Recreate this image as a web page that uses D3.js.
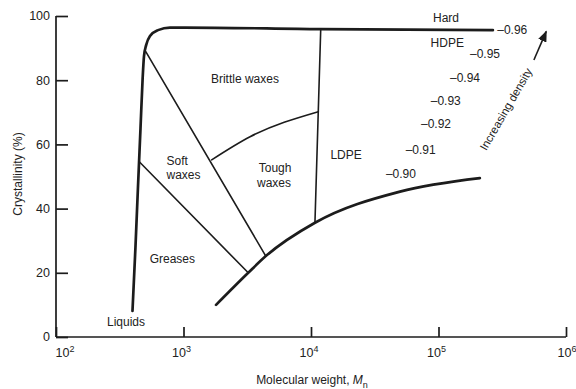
<!DOCTYPE html>
<html><head><meta charset="utf-8">
<script src="https://cdn.jsdelivr.net/npm/d3@7"></script>
<style>
body{margin:0;background:#fff;}
text{font-family:"Liberation Sans",Arial,sans-serif;fill:#222;}
</style></head>
<body><svg id="c" width="576" height="389"></svg>
<script>
// ---- data ----
const xTicks = [1e2, 1e3, 1e4, 1e5, 1e6];
const xTickExp = ["2", "3", "4", "5", "6"];
const yTicks = [0, 20, 40, 60, 80, 100];

// outer envelope (liquids -> hard HDPE)
const envMw    = [398, 420, 440, 460, 478, 490, 510, 546, 631, 783, 1028, 11750, 267000];
const envCryst = [8.1, 28, 47.2, 65, 80.5, 87.5, 91, 93.8, 95.6, 96.4, 96.4, 95.9, 95.6];
// lower boundary curve
const lowMw    = [1800, 3220, 4420, 10740, 49900, 211000];
const lowCryst = [10, 20, 25.2, 35.6, 45.3, 49.5];
// greases / soft waxes boundary
const greMw    = [450, 3220];
const greCryst = [54.6, 20];
// soft / brittle & tough boundary
const britMw    = [506, 4420];
const britCryst = [88.9, 25.2];
// brittle / tough boundary
const toughMw    = [1663, 3327, 11410];
const toughCryst = [55.2, 62.4, 70.2];
// LDPE boundary
const ldpeMw    = [11920, 10740];
const ldpeCryst = [95.9, 35.6];

// density labels
const densLabels = ["\u20130.96", "\u20130.95", "\u20130.94", "\u20130.93", "\u20130.92", "\u20130.91", "\u20130.90"];
const densMw     = [289000, 176600, 123000, 86900, 72900, 55300, 38700];
const densCryst  = [95.6, 88.2, 80.9, 73.5, 66.3, 58.3, 50.7];

// region labels
const regLabels = ["Hard", "HDPE", "Brittle waxes", "Tough", "waxes", "LDPE", "Greases", "Liquids"];
const regMw     = [114500, 117200, 3034, 5225, 5130, 18840, 817, 354];
const regCryst  = [99.3, 91.8, 80.4, 52.6, 47.9, 56.7, 24.5, 4.8];
const softLabels = ["Soft", "waxes"];
const softMw     = [736, 736];
const softCryst  = [54.8, 50.4];

// ---- chart ----
const svg = d3.select("#c");
const x = d3.scaleLog().domain([1e2, 1e6]).range([56, 566]);
const y = d3.scaleLinear().domain([0, 100]).range([337, 16]);
const ink = "#1c1c1c";

// axes
const xAxis = svg.append("g").attr("transform", "translate(0,337)")
  .call(d3.axisTop(x).tickValues(xTicks).tickSize(10).tickFormat(""));
xAxis.select(".domain").attr("d", `M${x(1e2)},0H${x(1e6)}`);
const yAxis = svg.append("g").attr("transform", "translate(56,0)")
  .call(d3.axisRight(y).tickValues(yTicks).tickSize(12).tickFormat(""));
yAxis.select(".domain").attr("d", `M0,${y(0)}V${y(100)}`);
svg.selectAll(".domain, .tick line").attr("stroke", ink).attr("stroke-width", 1.7);

// x tick labels
xTicks.forEach((t, i) => {
  const tx = svg.append("text").attr("x", x(t) + (i === 0 ? 9 : (i === 4 ? 1 : -2))).attr("y", 357)
    .attr("text-anchor", "middle").attr("font-size", 12.5);
  tx.append("tspan").text("10");
  tx.append("tspan").attr("dy", -5).attr("font-size", 9).text(xTickExp[i]);
});
// y tick labels
yTicks.forEach(t => {
  svg.append("text").attr("x", 50).attr("y", y(t)).attr("dy", "0.35em")
    .attr("text-anchor", "end").attr("font-size", 12.5).text(t);
});

// axis titles
const xt = svg.append("text").attr("x", 312).attr("y", 384).attr("text-anchor", "middle").attr("font-size", 12);
xt.append("tspan").text("Molecular weight, ");
xt.append("tspan").attr("font-style", "italic").text("M");
xt.append("tspan").attr("dy", 4).attr("font-size", 9).text("n");
svg.append("text").attr("transform", "translate(22,174) rotate(-90)")
  .attr("text-anchor", "middle").attr("font-size", 12).text("Crystallinity (%)");

// curves
function drawLine(mw, cr, w, curve) {
  const pts = mw.map((m, i) => [m, cr[i]]);
  const gen = d3.line().x(d => x(d[0])).y(d => y(d[1])).curve(curve || d3.curveLinear);
  svg.append("path").attr("d", gen(pts)).attr("fill", "none")
    .attr("stroke", ink).attr("stroke-width", w).attr("stroke-linecap", "round");
}
drawLine(envMw, envCryst, 2.7, d3.curveMonotoneX);
drawLine(lowMw, lowCryst, 2.7, d3.curveMonotoneX);
drawLine(greMw, greCryst, 1.6);
drawLine(britMw, britCryst, 1.6);
drawLine(toughMw, toughCryst, 1.6, d3.curveMonotoneX);
drawLine(ldpeMw, ldpeCryst, 1.6);

// region labels
regLabels.forEach((l, i) => {
  svg.append("text").attr("x", x(regMw[i])).attr("y", y(regCryst[i])).attr("dy", "0.35em")
    .attr("text-anchor", "middle").attr("font-size", 12).text(l);
});
softLabels.forEach((l, i) => {
  svg.append("text").attr("x", x(softMw[i])).attr("y", y(softCryst[i])).attr("dy", "0.35em")
    .attr("text-anchor", "start").attr("font-size", 12).text(l);
});
densLabels.forEach((l, i) => {
  svg.append("text").attr("x", x(densMw[i])).attr("y", y(densCryst[i])).attr("dy", "0.35em")
    .attr("text-anchor", "start").attr("font-size", 12).text(l);
});

// increasing density
svg.append("text").attr("transform", `translate(${x(338000)},${y(71)}) rotate(-60)`)
  .attr("text-anchor", "middle").attr("dy", "0.35em").attr("font-size", 11.5).text("Increasing density");
svg.append("defs").append("marker").attr("id", "ah").attr("viewBox", "0 0 10 10")
  .attr("refX", 9).attr("refY", 5).attr("markerWidth", 7).attr("markerHeight", 7).attr("orient", "auto")
  .append("path").attr("d", "M0,1L10,5L0,9Z").attr("fill", ink);
svg.append("line").attr("x1", x(560000)).attr("y1", y(86.3)).attr("x2", x(700000)).attr("y2", y(95.2))
  .attr("stroke", ink).attr("stroke-width", 1.6).attr("marker-end", "url(#ah)");
</script></body></html>
